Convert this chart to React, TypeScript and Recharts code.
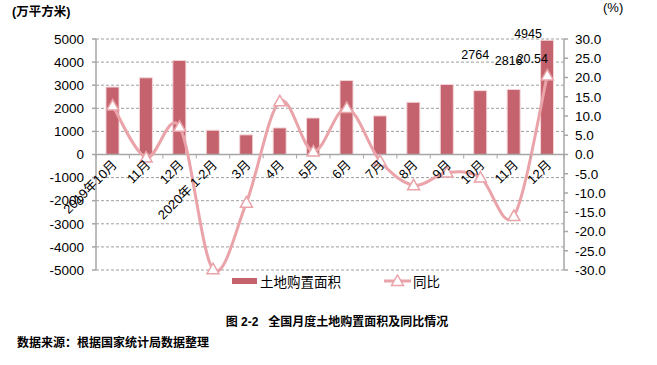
import React from 'react';
import {
  ComposedChart,
  Bar,
  Line,
  XAxis,
  YAxis,
  CartesianGrid,
  ReferenceLine,
  LabelList
} from 'recharts';

// 月份 / 土地购置面积(万平方米) / 同比(%)
const months = ['2019年10月', '11月', '12月', '2020年 1-2月', '3月', '4月', '5月', '6月', '7月', '8月', '9月', '10月', '11月', '12月'];
const landArea = [2920, 3320, 4070, 1050, 850, 1150, 1580, 3200, 1670, 2260, 3030, 2764, 2816, 4945];
const yoyRate = [12.7, -0.8, 7.2, -29.8, -12.5, 13.8, 0.8, 12.1, -1.7, -8.0, -4.7, -6.0, -16.0, 20.54];
const leftTicks = [-5000, -4000, -3000, -2000, -1000, 0, 1000, 2000, 3000, 4000, 5000];
const rightTicks = [-30, -25, -20, -15, -10, -5, 0, 5, 10, 15, 20, 25, 30];

const data = months.map((m, i) => ({ month: m, area: landArea[i], yoy: yoyRate[i] }));

const W = 657;
const H = 365;
const TOP = 39;
const PLOT_BOTTOM = 270;
const X_AXIS_H = 20;
const ZERO_Y = (TOP + PLOT_BOTTOM) / 2;

const BAR_COLOR = '#C4636D';
const LINE_COLOR = '#E9A3A9';
const AXIS_COLOR = '#A6A6A6';
const FONT = '"Liberation Sans", Arial, "Noto Sans CJK SC", sans-serif';

// label nudges, like the hand-moved labels in the original
const barLabelShift: Record<number, [number, number]> = { 11: [-5, -32], 12: [-5, -24], 13: [-19, -2] };
const lineLabelShift: Record<number, [number, number]> = { 13: [-15, -16] };

// Excel-like smoothed line (Catmull-Rom)
const smoothCurve = (context: any) => {
  let pts: number[][] = [];
  return {
    areaStart() {},
    areaEnd() {},
    lineStart() {
      pts = [];
    },
    point(x: number, y: number) {
      pts.push([+x, +y]);
    },
    lineEnd() {
      if (!pts.length) return;
      context.moveTo(pts[0][0], pts[0][1]);
      for (let i = 0; i < pts.length - 1; i++) {
        const p0 = pts[i - 1] || pts[i];
        const p1 = pts[i];
        const p2 = pts[i + 1];
        const p3 = pts[i + 2] || p2;
        context.bezierCurveTo(
          p1[0] + (p2[0] - p0[0]) / 6,
          p1[1] + (p2[1] - p0[1]) / 6,
          p2[0] - (p3[0] - p1[0]) / 6,
          p2[1] - (p3[1] - p1[1]) / 6,
          p2[0],
          p2[1]
        );
      }
    }
  };
};

const MonthTick = (props: any) => {
  const { x, payload, index } = props;
  const step = (W - 96 - 93) / months.length;
  return (
    <g>
      <line x1={x - step / 2} y1={ZERO_Y} x2={x - step / 2} y2={ZERO_Y + 4} stroke={AXIS_COLOR} />
      {index === months.length - 1 && (
        <line x1={x + step / 2} y1={ZERO_Y} x2={x + step / 2} y2={ZERO_Y + 4} stroke={AXIS_COLOR} />
      )}
      <text
        x={x + 5}
        y={ZERO_Y + 11}
        textAnchor="end"
        transform={`rotate(-45, ${x + 5}, ${ZERO_Y + 11})`}
        fontSize={13}
        fontFamily={FONT}
        fill="#000"
      >
        {payload.value}
      </text>
    </g>
  );
};

const Triangle = (props: any) => {
  const { cx, cy } = props;
  if (cx == null || cy == null) return null;
  return (
    <path
      d={`M${cx},${cy - 6} L${cx + 6},${cy + 4.5} L${cx - 6},${cy + 4.5} Z`}
      fill="#fff"
      stroke={LINE_COLOR}
      strokeWidth={1.5}
    />
  );
};

const BarLabel = (props: any) => {
  const { x, y, width, value, index } = props;
  const shift = barLabelShift[index];
  if (!shift) return null;
  return (
    <text x={x + width / 2 + shift[0]} y={y + shift[1]} textAnchor="middle" fontSize={12.5} fontFamily={FONT} fill="#000">
      {value}
    </text>
  );
};

const LineLabel = (props: any) => {
  const { x, y, value, index } = props;
  const shift = lineLabelShift[index];
  if (!shift) return null;
  return (
    <text x={x + shift[0]} y={y + shift[1] + 4} textAnchor="middle" fontSize={12.5} fontFamily={FONT} fill="#000">
      {value}
    </text>
  );
};

export default function App() {
  return (
    <div style={{ position: 'absolute', left: 0, top: 0, width: W, height: H, background: '#fff' }}>
      <div style={{ position: 'absolute', left: 12, top: 1, fontFamily: FONT, fontSize: 12.5, fontWeight: 'bold' }}>(万平方米)</div>
      <div style={{ position: 'absolute', left: 603, top: 0, fontFamily: FONT, fontSize: 13 }}>(%)</div>
      <ComposedChart
        width={W}
        height={H}
        data={data}
        margin={{ top: TOP, right: 0, bottom: H - PLOT_BOTTOM - X_AXIS_H, left: 0 }}
        barSize={13}
      >
        <CartesianGrid vertical={false} stroke="#9E9E9E" strokeDasharray="3 2" yAxisId="left" />
        <XAxis dataKey="month" height={X_AXIS_H} axisLine={false} tickLine={false} interval={0} tick={<MonthTick />} />
        <YAxis
          yAxisId="left"
          width={96}
          domain={[-5000, 5000]}
          ticks={leftTicks}
          interval={0}
          stroke={AXIS_COLOR}
          strokeWidth={1.5}
          tickSize={4}
          tickMargin={8}
          tick={{ fontSize: 13.5, fill: '#000', fontFamily: FONT }}
        />
        <YAxis
          yAxisId="right"
          orientation="right"
          width={93}
          domain={[-30, 30]}
          ticks={rightTicks}
          interval={0}
          stroke={AXIS_COLOR}
          strokeWidth={1.5}
          tickSize={4}
          tickMargin={7}
          tickFormatter={(v: number) => v.toFixed(1)}
          tick={{ fontSize: 13.5, fill: '#000', fontFamily: FONT }}
        />
        <ReferenceLine yAxisId="left" y={0} stroke={AXIS_COLOR} strokeWidth={1.5} />
        <Bar yAxisId="left" dataKey="area" name="土地购置面积" fill={BAR_COLOR} stroke="#F3D5D8" strokeWidth={1} isAnimationActive={false}>
          <LabelList dataKey="area" content={<BarLabel />} />
        </Bar>
        <Line
          yAxisId="right"
          dataKey="yoy"
          name="同比"
          type={smoothCurve as any}
          stroke={LINE_COLOR}
          strokeWidth={3}
          dot={<Triangle />}
          activeDot={false}
          isAnimationActive={false}
        >
          <LabelList dataKey="yoy" content={<LineLabel />} />
        </Line>
      </ComposedChart>
      <div style={{ position: 'absolute', left: 232, top: 271, display: 'flex', alignItems: 'center', fontFamily: FONT, fontSize: 13.5, color: '#000' }}>
        <span style={{ display: 'inline-block', width: 25, height: 6, background: BAR_COLOR, marginRight: 3 }} />
        <span>土地购置面积</span>
        <svg width={27} height={14} style={{ marginLeft: 43, marginRight: 2 }}>
          <line x1={0} y1={7} x2={27} y2={7} stroke={LINE_COLOR} strokeWidth={3} />
          <path d="M13.5,1 L19.5,11.5 L7.5,11.5 Z" fill="#fff" stroke={LINE_COLOR} strokeWidth={1.5} />
        </svg>
        <span>同比</span>
      </div>
      <div style={{ position: 'absolute', left: 0, width: 674, top: 312, textAlign: 'center', fontFamily: FONT, fontSize: 12, fontWeight: 'bold' }}>
        图 2-2&nbsp;&nbsp;&nbsp;全国月度土地购置面积及同比情况
      </div>
      <div style={{ position: 'absolute', left: 17, top: 333, fontFamily: FONT, fontSize: 12, fontWeight: 'bold' }}>
        数据来源：根据国家统计局数据整理
      </div>
    </div>
  );
}
